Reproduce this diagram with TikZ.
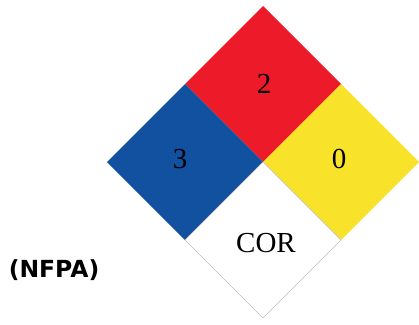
\documentclass[tikz,border=0pt]{standalone}
\usepackage{fontspec}
\newfontfamily\labelfont{DejaVu Sans}
\newfontfamily\ratingfont{Liberation Serif}
\usepackage{tikz}
\usetikzlibrary{positioning}
\definecolor{healthcol}{RGB}{18,80,160}
\definecolor{firecol}{RGB}{237,27,42}
\definecolor{reactcol}{RGB}{249,226,42}
\definecolor{edgecol}{RGB}{190,190,190}
\tikzset{
  panel/.style={line width=0.5pt,line join=miter},
  rating/.style={font=\ratingfont\fontsize{29}{31}\selectfont,inner sep=0pt},
  caption/.style={font=\labelfont\bfseries\fontsize{23.5}{25}\selectfont,inner sep=0pt}
}

\begin{document}
\begin{tikzpicture}[x=1pt,y=-1pt]
  \useasboundingbox (0,0) rectangle (419,324);
  % the four squares of the diamond
  \fill[panel,firecol] (263,6) -- (185,84) -- (263,162) -- (341,84) -- cycle;
  \fill[panel,healthcol] (185,84) -- (107,162) -- (185,240) -- (263,162) -- cycle;
  \fill[panel,reactcol] (341,84) -- (263,162) -- (341,240) -- (419,162) -- cycle;
  \draw[panel,draw=edgecol,fill=white] (263,162) -- (185,240) -- (263,318) -- (341,240) -- cycle;

  % ratings
  \node[rating] (fire) at (264,84) {2};
  \node[rating] (health) at (180,159) {3};
  \node[rating] (react) at (339,159) {0};
  \node[rating] (special) at (266,243) {COR};

  \node[caption] (nfpa) at (54,270) {(NFPA)};
\end{tikzpicture}
\end{document}
